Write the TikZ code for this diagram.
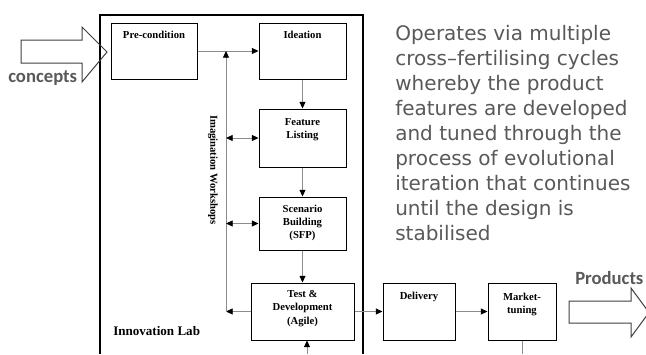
\documentclass[tikz,border=0pt]{standalone}
\usepackage{fontspec}
\setmainfont{Liberation Serif}
\newfontfamily\carlito{Carlito}
\newfontfamily\dejavu{DejaVu Sans}
\usetikzlibrary{arrows.meta}
\definecolor{linegray}{HTML}{8C8C8C}
\definecolor{textgray}{HTML}{595959}
\definecolor{outline}{HTML}{3F3F3F}

\begin{document}
\begin{tikzpicture}[x=0.75pt,y=-0.75pt,
  >={Triangle[length=5pt,width=4.5pt,color=black]},
  box/.style={draw=black, line width=0.75pt, inner sep=0pt, minimum height=42.75pt},
  boxlabel/.style={anchor=north, inner sep=0pt, align=center,
    font=\bfseries\fontsize{8}{9.8}\selectfont},
  link/.style={draw=linegray, line width=0.6pt, ->},
  both/.style={draw=linegray, line width=0.6pt, <->},
  plain/.style={draw=linegray, line width=0.6pt},
  blockarrow/.style={draw=outline, line width=0.75pt, line join=miter},
  tag/.style={font=\carlito\bfseries\fontsize{14}{16}\selectfont, text=textgray, inner sep=0pt},
]
\useasboundingbox (0,0) rectangle (646,354);
\fill[white] (0,0) rectangle (646,354);

% lab frame, open at the bottom
\draw[line width=1pt] (100,354) -- (100,15) -- (363,15) -- (363,354);

% stage boxes
\node[box, minimum width=64.5pt, minimum height=42pt,
  label={[boxlabel, yshift=-6pt]north:Pre-condition}] (pre) at (154,51) {};
\node[box, minimum width=65.25pt, minimum height=42pt,
  label={[boxlabel, yshift=-6pt]north:Ideation}] (idea) at (302.5,51) {};
\node[box, minimum width=65.25pt, minimum height=43.5pt,
  label={[boxlabel, yshift=-7pt]north:Feature\\Listing}] (feat) at (302.5,138) {};
\node[box, minimum width=65.25pt, minimum height=39.75pt,
  label={[boxlabel, yshift=-6pt]north:Scenario\\Building\\(SFP)}] (scen) at (302.5,223.5) {};
\node[box, minimum width=77.25pt,
  label={[boxlabel, yshift=-6pt]north:Test \&\\Development\\(Agile)}] (test) at (302.5,311.5) {};
\node[box, minimum width=54pt,
  label={[boxlabel, yshift=-7pt]north:Delivery}] (deliv) at (419,311.5) {};
\node[box, minimum width=51pt,
  label={[boxlabel, yshift=-7.5pt]north:Market-\\tuning}] (mkt) at (522,311.5) {};

% main flow
\draw[link] (pre) -- (idea);
\draw[link] (idea) -- (feat);
\draw[link] (feat) -- (scen);
\draw[link] (scen) -- (test);
\draw[link] (test) -- (deliv);
\draw[link] (deliv) -- (mkt);

% imagination workshops feedback loop
\coordinate (wsbot) at (226,311.5);
\coordinate (wstop) at (226,51);
\draw[link] (test.west) -- (wsbot);
\draw[link] (wsbot) -- (wstop);
\draw[both] (wstop |- feat.west) -- (feat.west);
\draw[both] (wstop |- scen.west) -- (scen.west);

% feeds entering and leaving at the bottom
\coordinate (labin) at (307,354);
\draw[link] (labin) -- (labin |- test.south);
\coordinate (mktout) at (522,354);
\draw[plain] (mkt.south) -- (mktout);

% block arrows in and out
\draw[blockarrow] (21,40) -- (82,40) -- (82,27) -- (107,52) -- (82,82)
  -- (82,63) -- (21,63) -- cycle;
\draw[blockarrow] (569,301) -- (631,301) -- (631,288) -- (649,312.5)
  -- (631,337) -- (631,323) -- (569,323) -- cycle;

% texts
\node[tag, anchor=base west] (concepts) at (8,82) {concepts};
\node[tag, anchor=base west] (products) at (575,284) {Products};
\node[font=\bfseries\fontsize{9.8}{12}\selectfont, anchor=base west, inner sep=0pt]
  (lab) at (113,335) {Innovation Lab};
\node[font=\bfseries\fontsize{8}{9.8}\selectfont, rotate=-90, inner sep=0pt]
  (workshops) at (213,170) {Imagination Workshops};
\node[font=\dejavu\fontsize{15}{18.75}\selectfont, text=textgray, anchor=north west,
  inner sep=0pt, align=left] (note) at (395,25.5)
  {Operates via multiple\\cross–fertilising cycles\\whereby the product\\features are developed\\and tuned through the\\process of evolutional\\iteration that continues\\until the design is\\stabilised};
\end{tikzpicture}
\end{document}
